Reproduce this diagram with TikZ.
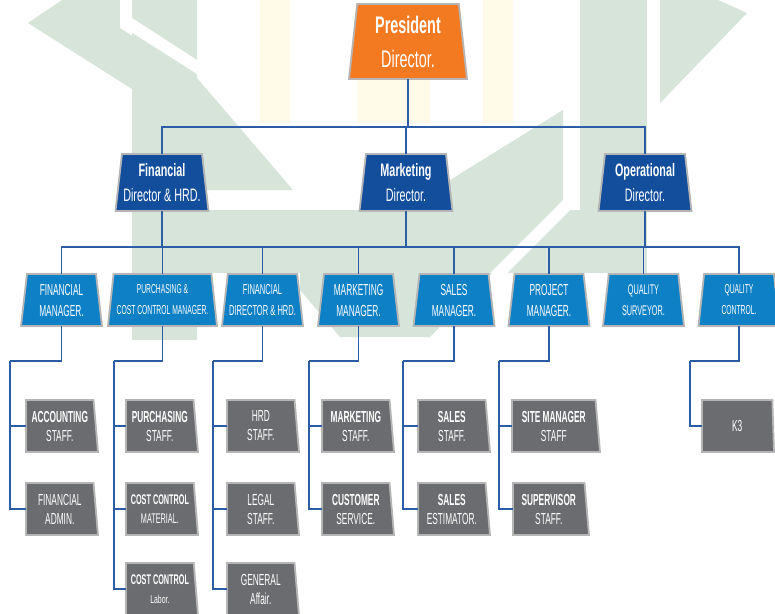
\documentclass[tikz,border=0pt]{standalone}
\usepackage{fontspec}
\newfontfamily\cf{Liberation Sans}[FakeStretch=0.52]
\newfontfamily\cfd{Liberation Sans}[FakeStretch=0.6]
\usetikzlibrary{shapes.geometric}
\definecolor{presorange}{HTML}{F47A21}
\definecolor{dirblue}{HTML}{124E9C}
\definecolor{mgrblue}{HTML}{0D80C6}
\definecolor{staffgray}{HTML}{6B6C6F}
\definecolor{bordergray}{HTML}{B5B5B5}
\definecolor{linkblue}{HTML}{2B5CA6}
\definecolor{wmgreen}{HTML}{D6E4D9}
\definecolor{wmyellow}{HTML}{FFFBE8}
\tikzset{
  box/.style={trapezium, trapezium stretches body, draw=bordergray, line width=1.8pt,
    outer sep=0pt, inner sep=0pt, text=white, align=center},
  presbox/.style={box, fill=presorange, trapezium left angle=81, trapezium right angle=81,
    minimum width=118pt, minimum height=75pt, anchor=south,
    font=\cfd\fontsize{24}{34}\selectfont},
  dirbox/.style={box, fill=dirblue, trapezium left angle=80.4, trapezium right angle=80.4,
    minimum width=93pt, minimum height=57pt, anchor=south,
    font=\cfd\fontsize{18}{25}\selectfont},
  mgrbox/.style={box, fill=mgrblue, trapezium left angle=79.5, trapezium right angle=79.5,
    minimum width=81pt, minimum height=52pt, anchor=south,
    font=\cf\fontsize{16}{21}\selectfont},
  staffbox/.style={box, fill=staffgray, trapezium left angle=89.9, trapezium right angle=81.6,
    minimum width=72pt, minimum height=52pt, anchor=bottom left corner,
    font=\cf\fontsize{16}{19}\selectfont},
  link/.style={draw=linkblue, line width=1.4pt}
}
\begin{document}
\begin{tikzpicture}[x=1pt,y=-1pt]
\useasboundingbox (0,0) rectangle (775,613);
\clip (0,0) rectangle (775,613);
\fill[white] (0,0) rectangle (775,613);
% faint watermark
\fill[wmyellow] (260,0) rectangle (290,123);
\fill[wmyellow] (357,80) rectangle (430,123);
\fill[wmyellow] (483,0) rectangle (513,123);
\fill[wmgreen] (28,23) -- (62,0) -- (120,0) -- (120,28) -- (197,78) -- (293,190) -- (132,190) -- (132,89) -- cycle;
\fill[wmgreen] (132,0) rectangle (197,340);
\fill[white] (120,0) -- (132,0) -- (132,18) -- (197,60) -- (197,74) -- (120,25) -- cycle;
\fill[wmgreen] (132,210) rectangle (647,273);
\fill[wmgreen] (580,0) rectangle (647,273);
\fill[wmgreen] (563,110) -- (563,200) -- (430,337) -- (340,337) -- (300,290) -- (300,273) -- cycle;
\fill[white] (563,200) -- (580,200) -- (507,273) -- (490,273) -- cycle;
\fill[wmgreen] (660,0) -- (718,0) -- (747,13) -- (660,103) -- cycle;

% top levels
\node[presbox] (pres) at (408,79) {{\bfseries President}\\Director.};
\node[dirbox] (fd) at (162,211) {{\bfseries Financial}\\Director \& HRD.};
\node[dirbox] (md) at (406,211) {{\bfseries Marketing}\\Director.};
\node[dirbox] (od) at (645,211) {{\bfseries Operational}\\Director.};

% managers
\node[mgrbox] (fm) at (61.5,326) {FINANCIAL\\MANAGER.};
\node[mgrbox, minimum width=109pt, font=\cf\fontsize{13}{21}\selectfont] (pcc) at (162.5,326) {PURCHASING \&\\COST CONTROL MANAGER.};
\node[mgrbox, font=\cf\fontsize{14.5}{21}\selectfont] (fdm) at (262.5,326) {FINANCIAL\\DIRECTOR \& HRD.};
\node[mgrbox] (mm) at (358.5,326) {MARKETING\\MANAGER.};
\node[mgrbox] (sm) at (454,326) {SALES\\MANAGER.};
\node[mgrbox] (pm) at (549,326) {PROJECT\\MANAGER.};
\node[mgrbox, font=\cf\fontsize{14}{21}\selectfont] (qs) at (643.5,326) {QUALITY\\SURVEYOR.};
\node[mgrbox, font=\cf\fontsize{13}{21}\selectfont] (qc) at (739,326) {QUALITY\\CONTROL.};

% staff
\node[staffbox] (acc) at (26,452) {{\bfseries ACCOUNTING}\\STAFF.};
\node[staffbox] (fadm) at (26,535) {FINANCIAL\\ADMIN.};
\node[staffbox] (pur) at (126,452) {{\bfseries PURCHASING}\\STAFF.};
\node[staffbox, font=\cf\fontsize{14}{19}\selectfont] (ccm) at (126,535) {{\bfseries COST CONTROL}\\MATERIAL.};
\node[staffbox, font=\cf\fontsize{14}{19}\selectfont] (ccl) at (126,615) {{\bfseries COST CONTROL}\\{\cfd\fontsize{11.5}{19}\selectfont Labor.}};
\node[staffbox] (hrd) at (227,452) {HRD\\STAFF.};
\node[staffbox] (legal) at (227,535) {LEGAL\\STAFF.};
\node[staffbox] (gen) at (227,615) {GENERAL\\Affair.};
\node[staffbox] (mks) at (322,452) {{\bfseries MARKETING}\\STAFF.};
\node[staffbox] (cs) at (322,535) {{\bfseries CUSTOMER}\\SERVICE.};
\node[staffbox] (ss) at (418,452) {{\bfseries SALES}\\STAFF.};
\node[staffbox] (se) at (418,535) {{\bfseries SALES}\\ESTIMATOR.};
\node[staffbox, minimum width=88pt] (site) at (512,452) {{\bfseries SITE MANAGER}\\STAFF};
\node[staffbox, minimum width=76pt] (sup) at (513,535) {{\bfseries SUPERVISOR}\\STAFF.};
\node[staffbox] (k3) at (702,452) {K3};

% connectors
\coordinate (busA) at (408,127);
\coordinate (busB) at (406,247);
\path[link] (pres.south) -- (pres.south |- busA);
\path[link] (fd.north) |- (busA) -| (od.north);
\path[link] (md.north) -- (md.north |- busA);
\path[link] (fm.north) |- (busB) -| (qc.north);
\foreach \n in {pcc,fdm,mm,sm,pm,qs} \path[link] (\n.north) -- (\n.north |- busB);
\foreach \n in {fd,md,od} \path[link] (\n.south) -- (\n.south |- busB);

\coordinate (eFM) at (10,361);
\coordinate (ePC) at (114,361);
\coordinate (eFD) at (213,361);
\coordinate (eMM) at (309,361);
\coordinate (eSM) at (403,361);
\coordinate (ePM) at (499,361);
\coordinate (eQC) at (690,361);
\path[link] (fm.south) |- (eFM);
\path[link] (pcc.south) |- (ePC);
\path[link] (fdm.south) |- (eFD);
\path[link] (mm.south) |- (eMM);
\path[link] (sm.south) |- (eSM);
\path[link] (pm.south) |- (ePM);
\path[link] (qc.south) |- (eQC);
\path[link] (eFM) |- (fadm.west);  \path[link] (eFM |- acc.west) -- (acc.west);
\path[link] (ePC) |- (ccl.west);   \path[link] (ePC |- pur.west) -- (pur.west); \path[link] (ePC |- ccm.west) -- (ccm.west);
\path[link] (eFD) |- (gen.west);   \path[link] (eFD |- hrd.west) -- (hrd.west); \path[link] (eFD |- legal.west) -- (legal.west);
\path[link] (eMM) |- (cs.west);    \path[link] (eMM |- mks.west) -- (mks.west);
\path[link] (eSM) |- (se.west);    \path[link] (eSM |- ss.west) -- (ss.west);
\path[link] (ePM) |- (sup.west);   \path[link] (ePM |- site.west) -- (site.west);
\path[link] (eQC) |- (k3.west);
\end{tikzpicture}
\end{document}
